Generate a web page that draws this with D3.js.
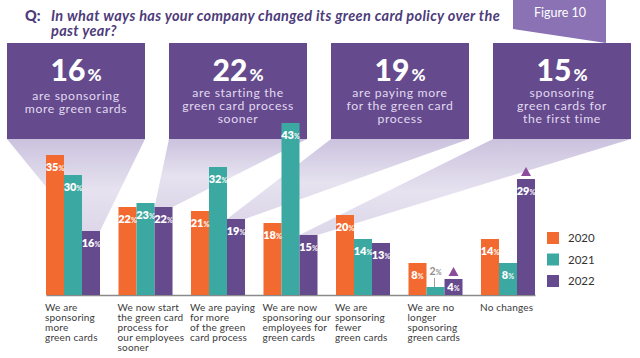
<!DOCTYPE html>
<html>
<head>
<meta charset="utf-8">
<script src="https://cdn.jsdelivr.net/npm/d3@7"></script>
<style>
  html, body { margin: 0; padding: 0; background: #ffffff; }
  svg { display: block; }
  text { font-family: Lato, "Open Sans", sans-serif; }
</style>
</head>
<body>
<svg id="chart" width="640" height="358"></svg>
<script>
// ---------------- data ----------------
const categories = [
  "We are sponsoring more green cards",
  "We now start the green card process for our employees sooner",
  "We are paying for more of the green card process",
  "We are now sponsoring our employees for green cards",
  "We are sponsoring fewer green cards",
  "We are no longer sponsoring green cards",
  "No changes"
];
const categoryLines = [
  ["We are", "sponsoring", "more", "green cards"],
  ["We now start", "the green card", "process for", "our employees", "sooner"],
  ["We are paying", "for more", "of the green", "card process"],
  ["We are now", "sponsoring our", "employees for", "green cards"],
  ["We are", "sponsoring", "fewer", "green cards"],
  ["We are no", "longer", "sponsoring", "green cards"],
  ["No changes"]
];
const years = ["2020", "2021", "2022"];
const values2020 = [35, 22, 21, 18, 20, 8, 14];
const values2021 = [30, 23, 32, 43, 14, 2, 8];
const values2022 = [16, 22, 19, 15, 13, 4, 29];
const increase2022 = [false, false, false, false, false, true, true];
const yearColors = ["#f26a30", "#3ba9a1", "#654a8e"];

const calloutValues = [16, 22, 19, 15];
const calloutTexts = [
  ["are sponsoring", "more green cards"],
  ["are starting the", "green card process", "sooner"],
  ["are paying more", "for the green card", "process"],
  ["sponsoring", "green cards for", "the first time"]
];
const calloutCategory = [0, 1, 2, 3];

const questionLabel = "Q:";
const questionLines = [
  "In what ways has your company changed its green card policy over the",
  "past year?"
];
const figureLabel = "Figure 10";

// ---------------- layout ----------------
const svg = d3.select("#chart");
const seriesValues = [values2020, values2021, values2022];
const rows = categories.map((c, i) => ({
  cat: c, i,
  vals: years.map((y, k) => ({ year: y, k, v: seriesValues[k][i], cat: c, i }))
}));

const x = d3.scaleBand().domain(categories).range([46, 535]).paddingInner(0.255).paddingOuter(0);
const x1 = d3.scaleBand().domain(years).range([0, x.bandwidth()]).padding(0);
const y = d3.scaleLinear().domain([0, 45]).range([295, 115]);
const color = d3.scaleOrdinal().domain(years).range(yearColors);

const boxPurple = "#654a8e";
const boxTop = 43, boxBottom = 139, boxW = 138;
const boxX = i => 7 + i * 162;

// gradient for beams
const defs = svg.append("defs");
const grad = defs.append("linearGradient").attr("id", "beam")
  .attr("x1", 0).attr("y1", 0).attr("x2", 0).attr("y2", 1);
grad.append("stop").attr("offset", 0).attr("stop-color", "#cbc2de");
grad.append("stop").attr("offset", 0.55).attr("stop-color", "#e6e2ef");
grad.append("stop").attr("offset", 1).attr("stop-color", "#ddd7e9");

// beams from callout boxes to the 2022 bar of each category
svg.append("g").selectAll("path").data(calloutValues).join("path")
  .attr("fill", "url(#beam)")
  .attr("d", (v, i) => {
    const cat = categories[calloutCategory[i]];
    const bx0 = x(cat) + x1("2022");
    const bx1 = bx0 + x1.bandwidth();
    const by = y(v);
    return `M${boxX(i)},${boxBottom}L${boxX(i) + boxW},${boxBottom}L${bx1},${by}L${bx0},${by}Z`;
  });

// callout boxes
const boxes = svg.append("g").selectAll("g").data(calloutValues).join("g")
  .attr("transform", (v, i) => `translate(${boxX(i)},${boxTop})`);
boxes.append("rect").attr("width", boxW).attr("height", boxBottom - boxTop).attr("fill", boxPurple);
boxes.append("text")
  .attr("x", boxW / 2).attr("y", 38).attr("text-anchor", "middle")
  .attr("fill", "#ffffff").attr("font-weight", 900)
  .call(t => {
    t.append("tspan").attr("font-size", 30).text(v => v);
    t.append("tspan").attr("font-size", 17).attr("dx", 2).text("%");
  });
boxes.each(function (v, i) {
  const lines = calloutTexts[i];
  const y0 = lines.length === 3 ? 54 : 57;
  d3.select(this).selectAll("text.sub").data(lines).join("text")
    .attr("class", "sub")
    .attr("x", boxW / 2).attr("y", (d, j) => y0 + j * 13)
    .attr("text-anchor", "middle")
    .attr("fill", "#e2daee").attr("font-size", 12.2).attr("letter-spacing", 0.65)
    .text(d => d);
});

// axis baseline
svg.append("g")
  .attr("transform", `translate(0,${y(0)})`)
  .call(d3.axisBottom(x).tickSize(0).tickSizeOuter(0).tickFormat(""))
  .call(g => g.select(".domain").attr("stroke", "#8a8a8a").attr("stroke-width", 1.5))
  .call(g => g.selectAll(".tick").remove());

// bars
const groups = svg.append("g").selectAll("g").data(rows).join("g")
  .attr("transform", d => `translate(${x(d.cat)},0)`);
groups.selectAll("rect").data(d => d.vals).join("rect")
  .attr("x", d => x1(d.year)).attr("width", x1.bandwidth())
  .attr("y", d => y(d.v)).attr("height", d => y(0) - y(d.v))
  .attr("fill", d => color(d.year));

// value labels
groups.each(function (row) {
  const g = d3.select(this);
  row.vals.forEach(d => {
    const cx = x1(d.year) + x1.bandwidth() / 2;
    const h = y(0) - y(d.v);
    if (h < 12) {
      g.append("line")
        .attr("x1", cx - 1).attr("x2", cx - 1)
        .attr("y1", y(d.v) - 9).attr("y2", y(d.v))
        .attr("stroke", "#9a9a9a").attr("stroke-width", 1);
      const t = g.append("text").attr("x", cx).attr("y", y(d.v) - 12)
        .attr("text-anchor", "middle").attr("fill", "#8e8e8e").attr("font-weight", 700);
      t.append("tspan").attr("font-size", 10.5).text(d.v);
      t.append("tspan").attr("font-size", 7).text("%");
    } else {
      const ty = Math.min(y(d.v) + 16, y(0) - 4);
      const t = g.append("text").attr("x", cx).attr("y", ty)
        .attr("text-anchor", "middle").attr("fill", "#ffffff").attr("font-weight", 800);
      t.append("tspan").attr("font-size", 11).text(d.v);
      t.append("tspan").attr("font-size", 7).attr("fill-opacity", 0.85).text("%");
    }
  });
});

// increase markers on 2022 bars
svg.append("g").selectAll("path").data(categories.filter((c, i) => increase2022[i])).join("path")
  .attr("fill", "#8d4b9d")
  .attr("d", c => {
    const i = categories.indexOf(c);
    const cx = x(c) + x1("2022") + x1.bandwidth() / 2;
    const top = y(values2022[i]) - 3;
    return `M${cx - 5},${top}L${cx + 5},${top}L${cx},${top - 9}Z`;
  });

// category labels
svg.append("g").selectAll("text").data(categories).join("text")
  .attr("x", c => x(c) - 1).attr("y", 311)
  .attr("fill", "#3a3a3a").attr("font-size", 10).attr("letter-spacing", 0.2)
  .each(function (c, i) {
    d3.select(this).selectAll("tspan").data(categoryLines[i]).join("tspan")
      .attr("x", x(c) - 1).attr("dy", (d, j) => j === 0 ? 0 : 10).text(d => d);
  });

// legend
const legend = svg.append("g").selectAll("g").data(years).join("g")
  .attr("transform", (d, i) => `translate(547,${232 + i * 21.5})`);
legend.append("rect").attr("width", 12).attr("height", 12).attr("fill", d => color(d));
legend.append("text").attr("x", 21).attr("y", 10).attr("font-size", 11.5)
  .attr("fill", "#333").text(d => d);

// title
svg.append("text").attr("x", 25).attr("y", 21)
  .attr("font-size", 14.5).attr("font-weight", 900).attr("fill", "#4d3c7a").text(questionLabel);
svg.append("g").selectAll("text").data(questionLines).join("text")
  .attr("x", 51).attr("y", (d, i) => 21 + i * 15)
  .attr("font-size", 14.5).attr("font-weight", 700).attr("font-style", "italic")
  .attr("letter-spacing", 0.35)
  .attr("fill", "#4d3c7a").text(d => d);

// figure tab
svg.append("path").attr("d", "M513,0L606,0L606,43L513,29Z").attr("fill", "#8a72b4");
svg.append("text").attr("x", 560).attr("y", 17).attr("text-anchor", "middle")
  .attr("font-size", 12.5).attr("fill", "#ffffff").text(figureLabel);
</script>
</body>
</html>
